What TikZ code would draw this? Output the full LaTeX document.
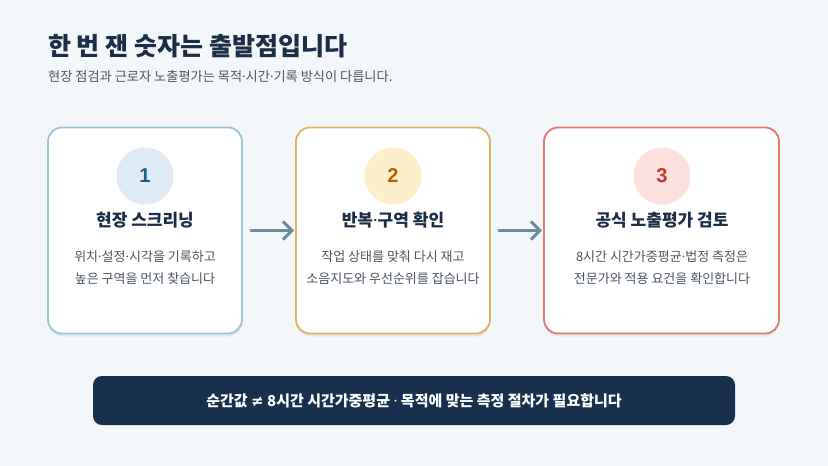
\documentclass[tikz,border=0pt]{standalone}
\usepackage{fontspec}
\setmainfont{Noto Sans CJK KR}
\newfontfamily\latnfont{Noto Sans}
\newfontfamily\numfont{Liberation Sans}
\newfontfamily\symfont{DejaVu Sans}
\newcommand{\md}{{\latnfont ·}}
\usepackage{xcolor}
\usetikzlibrary{arrows.meta,positioning,shadows}

\definecolor{bgpage}{HTML}{F3F7FA}
\definecolor{navy}{HTML}{1B2E45}
\definecolor{bodygray}{HTML}{4A5663}
\definecolor{bluedraw}{HTML}{9CC5DA}
\definecolor{bluefill}{HTML}{DCEBF5}
\definecolor{bluetext}{HTML}{1F5F82}
\definecolor{ambdraw}{HTML}{E2B264}
\definecolor{ambfill}{HTML}{FDEFCB}
\definecolor{ambtext}{HTML}{B5620B}
\definecolor{reddraw}{HTML}{E07A70}
\definecolor{redfill}{HTML}{FBE0DD}
\definecolor{redtext}{HTML}{C0392B}
\definecolor{arrowgray}{HTML}{6A8CA0}
\definecolor{banner}{HTML}{16304D}

\begin{document}
\begin{tikzpicture}[x=1pt, y=-1pt,
    card/.style={rectangle, draw=#1, fill=white, line width=1.8pt, rounded corners=14pt, minimum height=206pt,
      drop shadow={shadow xshift=0pt, shadow yshift=-3pt, opacity=0.06, fill=black}},
    num/.style={circle, fill=#1, minimum size=57pt, inner sep=0pt, font=\numfont\bfseries\fontsize{20}{24}\selectfont},
    head/.style={font=\fontsize{17}{20}\selectfont\bfseries, text=navy},
    desc/.style={font=\fontsize{13}{22}\selectfont, text=bodygray, align=center},
    arr/.style={-{Straight Barb[length=9pt, width=18pt]}, line width=3pt, line cap=round, color=arrowgray, shorten <=8pt, shorten >=1pt}
]
% Page
\fill[bgpage] (0,0) rectangle (828,466);
\useasboundingbox (0,0) rectangle (828,466);

% Title
\node[anchor=base west, inner sep=0pt, font=\fontsize{25}{30}\selectfont\bfseries, text=navy] (title) at (48,55) {한 번 잰 숫자는 출발점입니다};
\node[anchor=base west, inner sep=0pt, font=\fontsize{13.2}{16}\selectfont, text=bodygray] (sub) at (48,81) {현장 점검과 근로자 노출평가는 목적\md 시간\md 기록 방식이 다릅니다.};

% Cards
\node[card=bluedraw, minimum width=194pt] (c1) at (145,230.5) {};
\node[card=ambdraw, minimum width=194pt] (c2) at (393,230.5) {};
\node[card=reddraw, minimum width=235pt] (c3) at (661.5,230.5) {};

% Step numbers
\node[num=bluefill, text=bluetext] (n1) at (145,176) {1};
\node[num=ambfill, text=ambtext] (n2) at (393,176) {2};
\node[num=redfill, text=redtext] (n3) at (662,176) {3};

% Headings
\node[head] (h1) at (145,220) {현장 스크리닝};
\node[head] (h2) at (393,220) {반복\md 구역 확인};
\node[head] (h3) at (662,220) {공식 노출평가 검토};

% Descriptions
\node[desc] (d1) at (145,268) {위치\md 설정\md 시각을 기록하고\\높은 구역을 먼저 찾습니다};
\node[desc] (d2) at (393,268) {작업 상태를 맞춰 다시 재고\\소음지도와 우선순위를 잡습니다};
\node[desc] (d3) at (662,268) {8시간 시간가중평균\md 법정 측정은\\전문가와 적용 요건을 확인합니다};

% Arrows
\draw[arr] (c1) -- (c2);
\draw[arr] (c2) -- (c3);

% Banner
\node[rectangle, fill=banner, rounded corners=9pt, minimum width=642pt, minimum height=49pt,
  font=\fontsize{15}{16}\selectfont\bfseries, text=white] (note) at (414,400.5) {순간값 {\symfont ≠} 8시간 시간가중평균 \md{} 목적에 맞는 측정 절차가 필요합니다};
\end{tikzpicture}
\end{document}
